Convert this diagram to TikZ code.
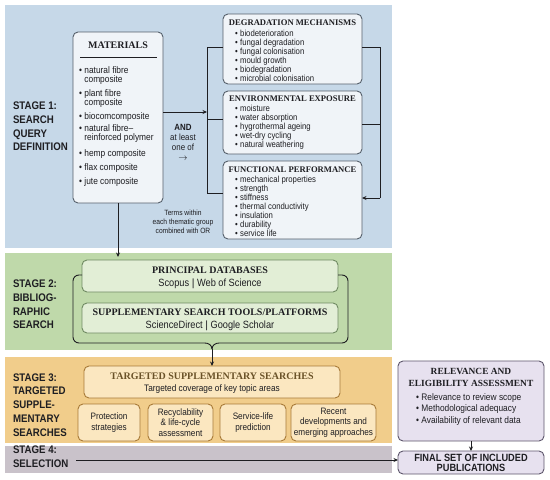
\documentclass[tikz,border=0pt]{standalone}
\usepackage{fontspec}
\setmainfont{Liberation Serif}
\newfontfamily\cnd[FakeStretch=0.88]{Liberation Sans}
\usetikzlibrary{arrows.meta}
\definecolor{blueband}{HTML}{C6D8E8}
\definecolor{greenband}{HTML}{BFD9AA}
\definecolor{orangeband}{HTML}{F1CD8B}
\definecolor{greyband}{HTML}{C9C2CA}
\definecolor{bluebox}{HTML}{F0F4F8}
\definecolor{blueedge}{HTML}{56606B}
\definecolor{greenbox}{HTML}{E2EED6}
\definecolor{greenedge}{HTML}{6F8A62}
\definecolor{orangebox}{HTML}{FBE7C0}
\definecolor{orangeedge}{HTML}{A87A38}
\definecolor{lilacbox}{HTML}{E7E1EF}
\definecolor{lilacedge}{HTML}{5D566C}
\definecolor{ink}{HTML}{1E1E22}
\definecolor{brownink}{HTML}{6A5228}
\newcommand\fs[2]{\fontsize{#1}{#2}\selectfont}
\newcommand\bl{\textbullet\hspace{2.5pt}}
\newcommand\hb{\phantom{\textbullet\hspace{2.5pt}}}
\begin{document}
\begin{tikzpicture}[x=1pt,y=-1pt,
  band/.style={draw=none,inner sep=0,outer sep=0},
  sbox/.style={rounded corners=5pt,line width=0.9pt,inner sep=0,outer sep=0},
  bbox/.style={sbox,draw=blueedge,fill=bluebox},
  gbox/.style={sbox,draw=greenedge,fill=greenbox},
  obox/.style={sbox,draw=orangeedge,fill=orangebox},
  lbox/.style={sbox,draw=lilacedge,fill=lilacbox},
  txt/.style={inner sep=0,outer sep=0,text=ink},
  stagelbl/.style={txt,anchor=west,align=left,font=\cnd\bfseries\fs{11}{13.8}},
  ttl/.style={txt,font=\bfseries\fs{8.6}{10}},
  items/.style={txt,anchor=west,align=left,font=\cnd\fs{8.8}{9}},
  conn/.style={draw=ink,line width=0.9pt},
  arr/.style={conn,-{Stealth[length=4.5pt,width=4pt]}}]
\useasboundingbox (0,0) rectangle (550,480);
% bands
\node[band,fill=blueband,minimum width=387,minimum height=243] (b1) at (198.5,126.5) {};
\node[band,fill=greenband,minimum width=387,minimum height=97] (b2) at (198.5,301.5) {};
\node[band,fill=orangeband,minimum width=387,minimum height=86] (b3) at (198.5,400) {};
\node[band,fill=greyband,minimum width=387,minimum height=27] (b4) at (198.5,459.5) {};
% stage labels
\node[stagelbl] (s1) at (13,126.5) {STAGE 1:\\SEARCH\\QUERY\\DEFINITION};
\node[stagelbl] (s2) at (13,304.5) {STAGE 2:\\BIBLIOG-\\RAPHIC\\SEARCH};
\node[stagelbl] (s3) at (13,405) {STAGE 3:\\TARGETED\\SUPPLE-\\MENTARY\\SEARCHES};
\node[stagelbl] (s4l) at (13,456.5) {STAGE 4:\\SELECTION};
% stage 1 boxes
\node[bbox,minimum width=90,minimum height=171] (mat) at (118,117.5) {};
\node[bbox,minimum width=139,minimum height=70] (deg) at (292.5,49) {};
\node[bbox,minimum width=139,minimum height=63] (env) at (292.5,122.5) {};
\node[bbox,minimum width=139,minimum height=78] (fun) at (292.5,200) {};
\node[txt,font=\bfseries\fs{10}{12}] (matt) at (118,45) {MATERIALS};
\coordinate (rl) at (80,57);
\coordinate (rr) at (157,57);
\draw[draw=ink,line width=0.6pt] (rl) -- (rr);
\node[txt,anchor=west,align=left,font=\cnd\fs{9.5}{9}] (matl) at (79,126.5) {%
\bl natural fibre\\\hb composite\\[5pt]
\bl plant fibre\\\hb composite\\[5pt]
\bl biocomcomposite\\[3pt]
\bl natural fibre–\\\hb reinforced polymer\\[7pt]
\bl hemp composite\\[5pt]
\bl flax composite\\[5pt]
\bl jute composite};
\node[ttl] (degt) at (292.5,23) {DEGRADATION MECHANISMS};
\node[items] (degl) at (235,55.5) {\bl biodeterioration\\\bl fungal degradation\\\bl fungal colonisation\\\bl mould growth\\\bl biodegradation\\\bl microbial colonisation};
\node[ttl] (envt) at (292.5,99) {ENVIRONMENTAL EXPOSURE};
\node[items] (envl) at (235,127.5) {\bl moisture\\\bl water absorption\\\bl hygrothermal ageing\\\bl wet-dry cycling\\\bl natural weathering};
\node[ttl] (funt) at (292.5,169.5) {FUNCTIONAL PERFORMANCE};
\node[items] (funl) at (235,206.5) {\bl mechanical properties\\\bl strength\\\bl stiffness\\\bl thermal conductivity\\\bl insulation\\\bl durability\\\bl service life};
\node[txt,align=center,font=\cnd\fs{9}{10}] (andt) at (183,142) {\textbf{AND}\\at least\\one of\\$\rightarrow$};
\node[txt,align=center,font=\cnd\fs{7.6}{9}] (terms) at (183,222) {Terms within\\each thematic group\\combined with OR};
% stage 1 connectors
\coordinate (jl) at (207,112);
\coordinate (l1) at (207,47);
\coordinate (l2) at (207,119);
\coordinate (l3) at (207,193);
\draw[arr] (mat.east|-jl) -- (jl);
\draw[conn] (deg.west|-l1) -- (l1) -- (l3) -- (fun.west|-l3);
\draw[conn] (l2) -- (env.west|-l2);
\coordinate (r1) at (380,47);
\coordinate (r2) at (380,124);
\coordinate (r3) at (380,198);
\draw[conn] (deg.east|-r1) -- (r1) -- (r3);
\draw[conn] (env.east|-r2) -- (r2);
\draw[arr] (r3) -- (fun.east|-r3);
\coordinate (d1) at (118,257);
\draw[arr] (mat.south) -- (d1);
% stage 2
\node[gbox,minimum width=256,minimum height=32] (pdb) at (210,276) {};
\node[gbox,minimum width=256,minimum height=30] (sst) at (210,318) {};
\node[txt,font=\bfseries\fs{10}{12}] (pdbt) at (210,270) {PRINCIPAL DATABASES};
\node[txt,font=\cnd\fs{10.5}{12}] (pdbs) at (210,283.5) {Scopus {\fontspec{Liberation Sans}|} Web of Science};
\node[txt,font=\bfseries\fs{10}{12}] (sstt) at (210,312.5) {SUPPLEMENTARY SEARCH TOOLS/PLATFORMS};
\node[txt,font=\cnd\fs{10.5}{12}] (ssts) at (210,326) {ScienceDirect {\fontspec{Liberation Sans}|} Google Scholar};
\coordinate (bl1) at (73,275);
\coordinate (bl2) at (73,343);
\coordinate (bm1) at (205,343);
\coordinate (bm) at (212,349);
\coordinate (bm2) at (219,343);
\coordinate (br2) at (348,343);
\coordinate (br1) at (348,275);
\draw[conn,rounded corners=6pt] (pdb.west|-bl1) -- (bl1) -- (bl2) -- (bm1);
\draw[conn,rounded corners=6pt] (pdb.east|-br1) -- (br1) -- (br2) -- (bm2);
\draw[conn] (bm1) to[out=0,in=90] (bm);
\draw[conn] (bm2) to[out=180,in=90] (bm);
% stage 3
\node[obox,minimum width=256,minimum height=32] (tsr) at (212,382) {};
\draw[arr] (bm) -- (tsr.north-|bm);
\node[txt,text=brownink,font=\bfseries\fs{10}{12}] (tsrt) at (212,376) {TARGETED SUPPLEMENTARY SEARCHES};
\node[txt,font=\cnd\fs{9.4}{11}] (tsrs) at (212,389) {Targeted coverage of key topic areas};
\node[obox,minimum width=62,minimum height=37] (prot) at (109,422.5) {};
\node[obox,minimum width=65,minimum height=37] (recy) at (180.5,422.5) {};
\node[obox,minimum width=66,minimum height=37] (serv) at (253,422.5) {};
\node[obox,minimum width=85,minimum height=37] (rec) at (333.5,422.5) {};
\node[txt,align=center,font=\cnd\fs{9.3}{10.7}] (prott) at (prot) {Protection\\strategies};
\node[txt,align=center,font=\cnd\fs{9.3}{10.7}] (recyt) at (recy) {Recyclability\\\& life-cycle\\assessment};
\node[txt,align=center,font=\cnd\fs{9.3}{10.7}] (servt) at (serv) {Service-life\\prediction};
\node[txt,align=center,font=\cnd\fs{9.3}{10.7}] (rect) at (rec) {Recent\\developments and\\emerging approaches};
% right column
\node[lbox,minimum width=146,minimum height=80] (rel) at (471,401) {};
\node[lbox,minimum width=146,minimum height=23] (final) at (471,462.5) {};
\node[txt,align=center,font=\bfseries\fs{9.4}{11.5}] (relt) at (471,377.5) {RELEVANCE AND\\ELIGIBILITY ASSESSMENT};
\node[txt,anchor=west,align=left,font=\cnd\fs{9.5}{11.5}] (rell) at (416,409.5) {\bl Relevance to review scope\\\bl Methodological adequacy\\\bl Availability of relevant data};
\node[txt,align=center,font=\cnd\bfseries\fs{10.5}{10}] (finalt) at (final) {FINAL SET OF INCLUDED\\PUBLICATIONS};
\draw[arr] (rel.south) -- (final.north);
\coordinate (sa) at (76,460);
\draw[arr] (sa) -- (final.west|-sa);
\end{tikzpicture}
\end{document}
